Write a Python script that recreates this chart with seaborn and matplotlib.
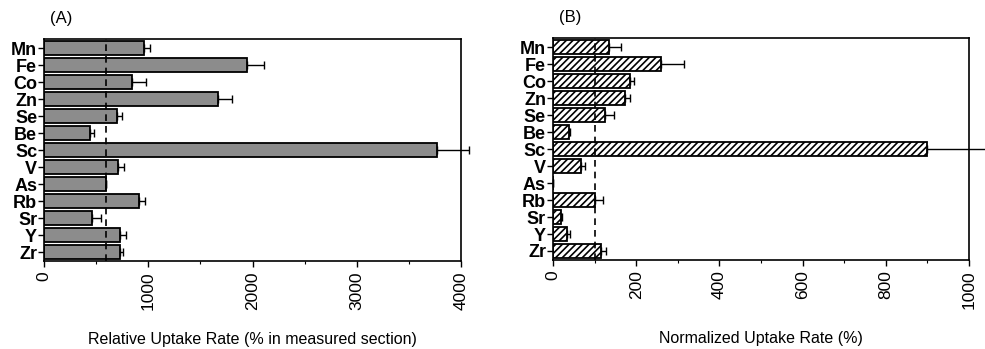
import matplotlib
matplotlib.use('Agg')
import matplotlib.pyplot as plt
import seaborn as sns
import numpy as np
import pandas as pd
from matplotlib.ticker import MultipleLocator

# 数据
elements = ['Mn', 'Fe', 'Co', 'Zn', 'Se', 'Be', 'Sc', 'V', 'As', 'Rb', 'Sr', 'Y', 'Zr']
relative_rate = [957, 1942, 848, 1670, 701, 438, 3766, 707, 592, 912, 461, 733, 726]
relative_err = [64, 170, 134, 135, 51, 39, 311, 58, 0, 61, 89, 51, 32]
normalized_rate = [135, 259, 186, 173, 124, 38, 898, 68, 1, 101, 20, 34, 115]
normalized_err = [29, 55, 9, 13, 22, 4, 145, 10, 0, 19, 2, 8, 13]
relative_ref = 592
normalized_ref = 100

df = pd.DataFrame({'element': elements,
                   'relative': relative_rate, 'relative_err': relative_err,
                   'normalized': normalized_rate, 'normalized_err': normalized_err})

sns.set_style('white')
plt.rcParams['font.family'] = ['Liberation Sans', 'DejaVu Sans']
plt.rcParams['hatch.linewidth'] = 1.2
plt.rcParams['text.color'] = 'black'
plt.rcParams['axes.labelcolor'] = 'black'
plt.rcParams['xtick.color'] = 'black'
plt.rcParams['ytick.color'] = 'black'

fig = plt.figure(figsize=(9.85, 3.49), dpi=100)
ax1 = fig.add_axes([0.0447, 0.252, 0.4234, 0.636])
ax2 = fig.add_axes([0.5614, 0.255, 0.4223, 0.636])


def panel(ax, col, errcol, ref, xmax, major, minor, xlabel, tag, gray, hatch):
    sns.barplot(data=df, x=col, y='element', orient='h', ax=ax,
                color='#8c8c8c' if gray else 'white', edgecolor='black',
                linewidth=1.3, width=0.8, errorbar=None, saturation=1)
    if hatch:
        for p in ax.patches:
            p.set_hatch(hatch)
    err = df[errcol].values
    ax.errorbar(df[col], np.arange(len(df)), xerr=[np.zeros(len(err)), err],
                fmt='none', ecolor='black', elinewidth=1.0, capsize=3,
                capthick=1.0, clip_on=False)
    ax.axvline(ref, color='black', lw=1.2, ls=(0, (4, 3)))
    ax.set_xlim(0, xmax)
    ax.set_ylim(len(df) - 0.47, -0.53)
    ax.xaxis.set_major_locator(MultipleLocator(major))
    ax.xaxis.set_minor_locator(MultipleLocator(minor))
    ax.tick_params(axis='x', which='major', direction='out', length=4,
                   width=1, labelsize=12.5, labelrotation=90, bottom=True)
    ax.tick_params(axis='x', which='minor', direction='out', length=2,
                   width=0.8, bottom=True)
    ax.tick_params(axis='y', direction='out', length=4, width=1, left=True,
                   labelsize=13, pad=1)
    for t in ax.get_yticklabels():
        t.set_fontweight('bold')
    for s in ax.spines.values():
        s.set_linewidth(1.2)
        s.set_color('black')
    ax.set_ylabel('')
    ax.set_xlabel(xlabel, fontsize=11.5, labelpad=16)
    ax.text(0.015, 1.06, tag, transform=ax.transAxes, fontsize=12, va='bottom')


panel(ax1, 'relative', 'relative_err', relative_ref, 4000, 1000, 500,
      'Relative Uptake Rate (% in measured section)', '(A)', True, None)
panel(ax2, 'normalized', 'normalized_err', normalized_ref, 1000, 200, 100,
      'Normalized Uptake Rate (%)', '(B)', False, '/////')

fig.savefig('out.png', dpi=100)
